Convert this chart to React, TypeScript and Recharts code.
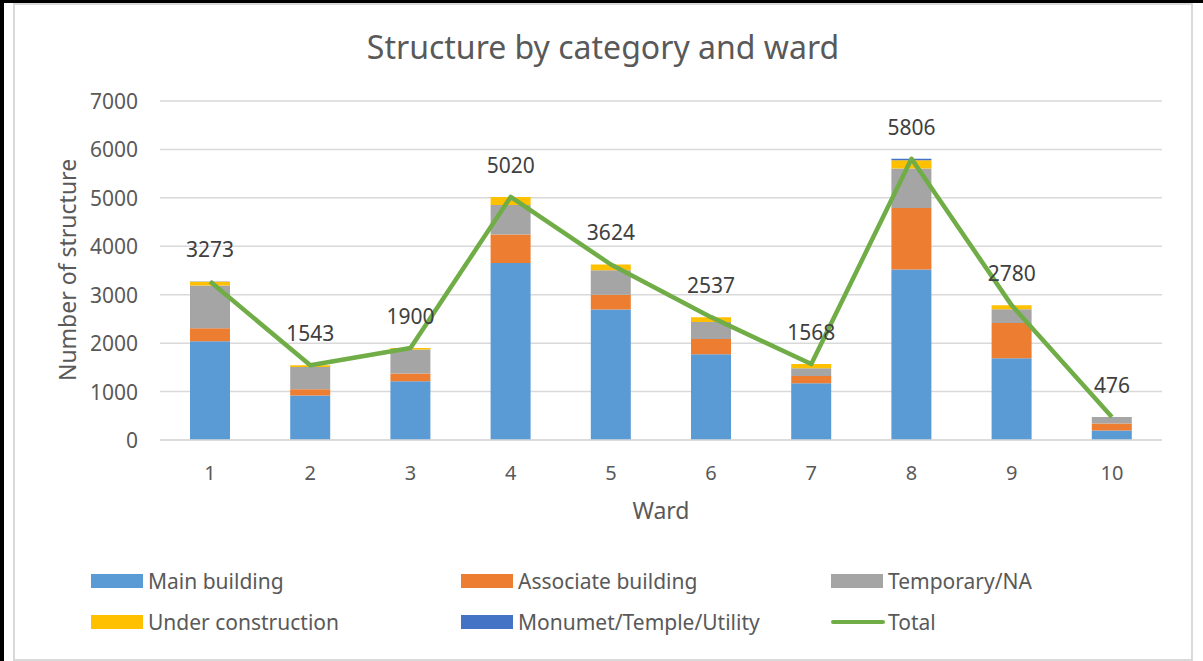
import React from 'react';
import {
  ComposedChart,
  Bar,
  Line,
  XAxis,
  YAxis,
  CartesianGrid,
  LabelList,
} from 'recharts';

// Values
const wards: string[] = ['1', '2', '3', '4', '5', '6', '7', '8', '9', '10'];
const mainBuilding: number[] = [2040, 917, 1215, 3653, 2694, 1771, 1174, 3521, 1688, 196];
const associateBuilding: number[] = [265, 133, 158, 590, 306, 312, 145, 1271, 729, 147];
const temporaryNA: number[] = [885, 455, 497, 611, 507, 354, 160, 812, 284, 133];
const underConstruction: number[] = [80, 38, 30, 166, 117, 100, 89, 175, 79, 0];
const monument: number[] = [3, 0, 0, 0, 0, 0, 0, 27, 0, 0];
const totals: number[] = [3273, 1543, 1900, 5020, 3624, 2537, 1568, 5806, 2780, 476];
const yTicks: number[] = [0, 1000, 2000, 3000, 4000, 5000, 6000, 7000];

const FONT = '"Noto Sans", sans-serif';
const TEXT = '#595959';

const series = [
  { key: 'main', name: 'Main building', color: '#5B9BD5' },
  { key: 'assoc', name: 'Associate building', color: '#ED7D31' },
  { key: 'temp', name: 'Temporary/NA', color: '#A5A5A5' },
  { key: 'under', name: 'Under construction', color: '#FFC000' },
  { key: 'monu', name: 'Monumet/Temple/Utility', color: '#4472C4' },
];

const data = wards.map((w, i) => ({
  ward: w,
  main: mainBuilding[i],
  assoc: associateBuilding[i],
  temp: temporaryNA[i],
  under: underConstruction[i],
  monu: monument[i],
  total: totals[i],
}));

const XTick = (props: any) => {
  const { x, y, payload } = props;
  return (
    <text x={x} y={y + 24} textAnchor="middle" dominantBaseline="central"
      fontFamily={FONT} fontSize={20} fill={TEXT}>
      {payload.value}
    </text>
  );
};

const YTick = (props: any) => {
  const { x, y, payload } = props;
  return (
    <text x={x - 14} y={y} textAnchor="end" dominantBaseline="central"
      fontFamily={FONT} fontSize={21} fill={TEXT}>
      {payload.value}
    </text>
  );
};

const TotalLabel = (props: any) => {
  const { x, y, value } = props;
  return (
    <text x={x} y={y - 32} textAnchor="middle" dominantBaseline="central"
      fontFamily={FONT} fontSize={21} fill="#404040">
      {value}
    </text>
  );
};

const LegendBox = () => {
  const items = [...series, { key: 'total', name: 'Total', color: '#70AD47' }];
  return (
    <div style={{ display: 'grid', gridTemplateColumns: '370px 370px 370px', rowGap: 19 }}>
      {items.map((it) => (
        <div key={it.key} style={{ display: 'flex', alignItems: 'center', height: 22 }}>
          {it.key === 'total' ? (
            <div style={{ width: 54, height: 4, borderRadius: 2, background: it.color, marginRight: 3 }} />
          ) : (
            <div style={{ width: 52, height: 14, background: it.color, marginRight: 5 }} />
          )}
          <span style={{ fontFamily: FONT, fontSize: 21, color: TEXT, whiteSpace: 'nowrap' }}>{it.name}</span>
        </div>
      ))}
    </div>
  );
};

export default function App() {
  return (
    <div style={{ position: 'absolute', left: 0, top: 0, width: 1203, height: 661, background: '#fff', overflow: 'hidden' }}>
      <div style={{ position: 'absolute', left: 0, top: 0, width: 1203, height: 3, background: '#000' }} />
      <div style={{ position: 'absolute', left: 0, top: 0, width: 4, height: 661, background: '#000' }} />
      <div style={{ position: 'absolute', left: 13, top: 3, width: 1176, height: 654, border: '2px solid #d9d9d9' }} />

      <div style={{ position: 'absolute', left: 15, top: 25, width: 1176, textAlign: 'center', fontFamily: FONT, fontSize: 32, color: TEXT }}>
        Structure by category and ward
      </div>
      <div style={{ position: 'absolute', left: 67, top: 270, transform: 'translate(-50%, -50%) rotate(-90deg)', fontFamily: FONT, fontSize: 23, color: TEXT, whiteSpace: 'nowrap' }}>
        Number of structure
      </div>
      <div style={{ position: 'absolute', left: 661, top: 510, transform: 'translate(-50%, -50%)', fontFamily: FONT, fontSize: 23, color: TEXT }}>
        Ward
      </div>

      <div style={{ position: 'absolute', left: 15, top: 3 }}>
        <ComposedChart width={1176} height={654} data={data}
          margin={{ top: 98, right: 29, bottom: 0, left: 0 }}
          barCategoryGap="60%">
          <CartesianGrid vertical={false} stroke="#d9d9d9" strokeWidth={1.5} />
          <XAxis dataKey="ward" tick={<XTick />} tickLine={false}
            axisLine={{ stroke: '#d9d9d9', strokeWidth: 1.5 }} height={217} interval={0} />
          <YAxis domain={[0, 7000]} ticks={yTicks} tick={<YTick />} tickLine={false}
            axisLine={false} width={145} interval={0} />
          {series.map((s) => (
            <Bar key={s.key} dataKey={s.key} name={s.name} stackId="a" fill={s.color}
              barSize={40} isAnimationActive={false} />
          ))}
          <Line dataKey="total" name="Total" stroke="#70AD47" strokeWidth={4.5}
            dot={false} activeDot={false} isAnimationActive={false} strokeLinejoin="round">
            <LabelList dataKey="total" content={<TotalLabel />} />
          </Line>
        </ComposedChart>
      </div>

      <div style={{ position: 'absolute', left: 91, top: 570 }}>
        <LegendBox />
      </div>
    </div>
  );
}
